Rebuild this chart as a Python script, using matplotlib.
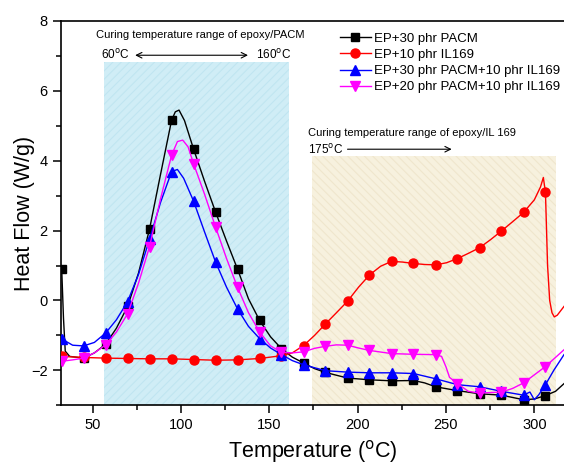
import matplotlib
matplotlib.use('Agg')
import matplotlib.pyplot as plt
from matplotlib.ticker import MultipleLocator

plt.rcParams['font.family'] = ['Liberation Sans', 'DejaVu Sans']
plt.rcParams['hatch.linewidth'] = 0.8

# temperatures where the markers sit (deg C)
mark_t = [32.5, 44.9, 57.4, 69.8, 82.2, 94.7, 107.1, 119.6, 132.0, 144.5, 156.9,
          169.4, 181.8, 194.3, 206.7, 219.2, 231.6, 244.1, 256.5, 269.0, 281.4,
          293.9, 306.3]

# EP+30 phr PACM
black_t = [32.5, 33.5, 34.5, 37.0, 44.9, 51.0, 57.4, 63.5, 69.8, 76.0, 82.2, 88.4,
           94.7, 96.8, 98.9, 102.0, 107.1, 113.3, 119.6, 125.8, 132.0, 138.2, 144.5,
           150.7, 156.9, 163.0, 169.4, 175.6, 181.8, 194.3, 206.7, 219.2, 231.6,
           238.0, 244.1, 256.5, 269.0, 281.4, 293.9, 300.0, 306.3, 312.0, 316.8]
black_v = [0.9, -0.5, -1.45, -1.6, -1.65, -1.5, -1.25, -0.79, -0.17, 0.79, 2.04, 3.6,
           5.16, 5.4, 5.45, 5.15, 4.34, 3.42, 2.53, 1.7, 0.9, 0.05, -0.57,
           -1.04, -1.38, -1.62, -1.79, -1.95, -2.06, -2.22, -2.27, -2.30, -2.29,
           -2.36, -2.47, -2.58, -2.67, -2.71, -2.84, -2.82, -2.72, -2.6, -2.38]

# EP+10 phr IL169
red_t = [32.5, 44.9, 57.4, 69.8, 82.2, 94.7, 107.1, 119.6, 132.0, 144.5, 156.9,
         163.0, 169.4, 175.6, 181.8, 188.0, 194.3, 200.5, 206.7, 213.0, 219.2, 225.4,
         231.6, 238.0, 244.1, 250.3, 256.5, 262.7, 269.0, 275.2, 281.4, 287.6, 293.9,
         300.0, 303.5, 305.1, 306.3, 307.5, 308.7, 310.0, 311.3, 313.0, 316.8]
red_v = [-1.6, -1.63, -1.65, -1.66, -1.67, -1.67, -1.69, -1.71, -1.70, -1.66, -1.58,
         -1.5, -1.29, -1.0, -0.67, -0.35, -0.02, 0.38, 0.73, 0.98, 1.12, 1.1,
         1.06, 1.03, 1.02, 1.08, 1.2, 1.35, 1.51, 1.74, 1.99, 2.25, 2.52,
         2.88, 3.25, 3.52, 3.1, 1.0, 0.0, -0.35, -0.47, -0.42, -0.17]

# EP+30 phr PACM+10 phr IL169
blue_t = [32.1, 32.5, 38.7, 44.9, 51.0, 57.4, 63.5, 69.8, 76.0, 82.2, 88.4, 94.7,
          98.0, 101.5, 107.1, 113.3, 119.6, 125.8, 132.0, 138.2, 144.5, 150.7, 156.9,
          163.0, 169.4, 181.8, 194.3, 206.7, 219.2, 231.6, 244.1, 256.5, 269.0,
          281.4, 293.9, 297.5, 300.0, 302.5, 306.3, 311.0, 316.8]
blue_v = [-1.0, -1.1, -1.28, -1.3, -1.2, -0.93, -0.55, -0.03, 0.75, 1.75, 2.8, 3.69,
          3.75, 3.5, 2.85, 1.97, 1.1, 0.38, -0.24, -0.74, -1.09, -1.36, -1.55,
          -1.72, -1.84, -2.01, -2.05, -2.07, -2.07, -2.09, -2.24, -2.41, -2.47,
          -2.6, -2.71, -2.62, -2.84, -2.7, -2.41, -2.0, -1.55]

# EP+20 phr PACM+10 phr IL169
mag_t = [32.1, 32.5, 38.7, 44.9, 51.0, 57.4, 63.5, 69.8, 76.0, 82.2, 88.4, 94.7,
         98.0, 101.0, 104.0, 107.1, 113.3, 119.6, 125.8, 132.0, 138.2, 144.5, 150.7,
         156.9, 163.0, 169.4, 175.6, 181.8, 188.0, 194.3, 200.5, 206.7, 219.2, 231.6,
         244.1, 247.5, 250.0, 252.0, 256.5, 262.7, 269.0, 281.4, 287.6, 293.9,
         306.3, 316.8]
mag_v = [-1.75, -1.74, -1.7, -1.65, -1.5, -1.27, -0.9, -0.38, 0.5, 1.54, 2.9, 4.16,
         4.55, 4.59, 4.4, 3.92, 3.05, 2.1, 1.2, 0.38, -0.35, -0.9, -1.3,
         -1.48, -1.5, -1.47, -1.37, -1.31, -1.27, -1.28, -1.36, -1.43, -1.52, -1.54,
         -1.55, -1.6, -1.9, -2.2, -2.38, -2.6, -2.65, -2.62, -2.52, -2.36,
         -1.89, -1.41]

series = [
    (black_t, black_v, 'black', 's', 6.0, 'EP+30 phr PACM'),
    (red_t, red_v, 'red', 'o', 6.5, 'EP+10 phr IL169'),
    (blue_t, blue_v, 'blue', '^', 6.5, 'EP+30 phr PACM+10 phr IL169'),
    (mag_t, mag_v, 'magenta', 'v', 6.5, 'EP+20 phr PACM+10 phr IL169'),
]

fig = plt.figure(figsize=(5.64, 4.66), dpi=100)
ax = fig.add_axes([61 / 564, 60.7 / 466, 503 / 564, 384.3 / 466])

# shaded curing ranges
ax.fill_between([56.7, 161.0], -3, 6.83, facecolor='#d0edf6', edgecolor='#c0e5f1',
                hatch='////', linewidth=0, zorder=0)
ax.fill_between([174.0, 312.0], -3, 4.14, facecolor='#f7f1de', edgecolor='#efe6cd',
                hatch='\\\\\\\\', linewidth=0, zorder=0)

for t, v, c, m, ms, name in series:
    idx = [i for i, x in enumerate(t) if x in mark_t]
    ax.plot(t, v, color=c, lw=1.0, marker=m, markersize=ms, markevery=idx,
            label=name, zorder=3)

ax.set_xlim(32.1, 316.8)
ax.set_ylim(-3, 8)
ax.xaxis.set_major_locator(MultipleLocator(50))
ax.xaxis.set_minor_locator(MultipleLocator(25))
ax.yaxis.set_major_locator(MultipleLocator(2))
ax.yaxis.set_minor_locator(MultipleLocator(1))
ax.tick_params(which='major', length=6, width=1.1, labelsize=10.5)
ax.tick_params(which='minor', length=3.5, width=1.1)
ax.spines['right'].set_visible(False)
for s in ['left', 'bottom', 'top']:
    ax.spines[s].set_linewidth(1.2)

ax.set_xlabel('Temperature ($\\rm ^{o}$C)', fontsize=15.5, labelpad=4)
ax.set_ylabel('Heat Flow (W/g)', fontsize=15.5, labelpad=-3)

# annotations
ax.text(52.0, 7.59, 'Curing temperature range of epoxy/PACM', fontsize=8, va='center')
ax.text(70.8, 7.02, '60$\\rm ^{o}$C', fontsize=8.5, va='center', ha='right')
ax.text(142.5, 7.02, '160$\\rm ^{o}$C', fontsize=8.5, va='center', ha='left')
ax.annotate('', xy=(72.5, 7.02), xytext=(139.5, 7.02),
            arrowprops=dict(arrowstyle='<->', lw=0.8, color='black'))
ax.text(172.1, 4.79, 'Curing temperature range of epoxy/IL 169', fontsize=8, va='center')
ax.text(172.1, 4.3, '175$\\rm ^{o}$C', fontsize=8.5, va='center')
ax.annotate('', xy=(254.8, 4.33), xytext=(192.7, 4.33),
            arrowprops=dict(arrowstyle='->', lw=0.8, color='black'))

ax.legend(loc='upper left', bbox_to_anchor=(0.555, 0.97), frameon=False,
          fontsize=9.5, borderpad=0, borderaxespad=0, labelspacing=0.3,
          handlelength=2.3, handletextpad=0.3)

fig.savefig('out.png', dpi=100)
